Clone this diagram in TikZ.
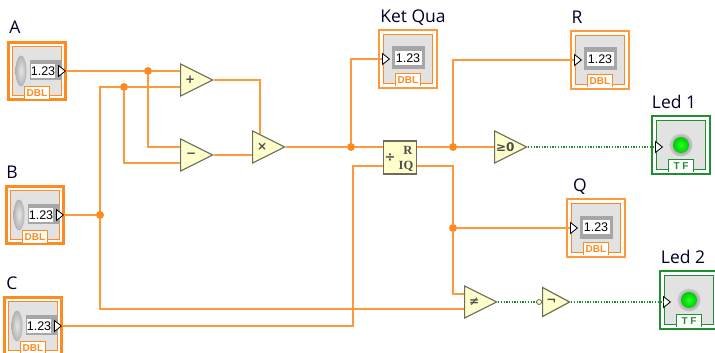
\documentclass[tikz,border=0pt]{standalone}
\usepackage{amsmath,amssymb}
\usepackage{xcolor}
\usepackage{fontspec}
\setsansfont{Open Sans}
\newfontfamily\dbfont{Liberation Sans}
\newfontfamily\opfont{Liberation Serif}
\newfontfamily\symfont{DejaVu Sans}
\usetikzlibrary{shapes.geometric,calc,positioning}
\definecolor{dblor}{HTML}{FF8A1F}
\definecolor{wireor}{HTML}{FF9A3C}
\definecolor{tfgr}{HTML}{1F8F2F}
\definecolor{dotgr}{HTML}{1E8C2E}
\definecolor{opfill}{HTML}{FFFFCC}
\definecolor{opedge}{HTML}{6E6E58}
\definecolor{panel}{HTML}{E2E2E2}
\tikzset{
  wire/.style={wireor,line width=1.5pt},
  boolwire/.style={dotgr,line width=1.3pt,dash pattern=on 1.3pt off 1.4pt},
  jn/.style={circle,fill=dblor,inner sep=0pt,minimum size=8pt},
  optri/.style={draw=opedge,fill=opfill,line width=1.2pt,isosceles triangle,isosceles triangle stretches,
    inner sep=0pt,minimum width=32pt,minimum height=32pt,anchor=lower side,
    text=black!70,font=\symfont\bfseries\fontsize{12}{12}\selectfont},
  termtri/.style={draw=black,fill=white,line width=0.8pt,isosceles triangle,isosceles triangle stretches,
    inner sep=0pt,minimum width=11pt,minimum height=7pt,anchor=lower side},
  lbl/.style={font=\sffamily\fontsize{17.5}{20}\selectfont,text=black!85!blue,inner sep=0pt,anchor=base},
  tagbox/.style={fill=white,inner sep=0pt,minimum width=24pt,minimum height=12pt,
    text=#1,font=\dbfont\bfseries\fontsize{10}{10}\selectfont},
  numout/.style={fill=black!35,inner sep=0pt},
  numbox/.style={fill=white,inner sep=0pt,font=\dbfont\fontsize{12.5}{14}\selectfont},
}
% control: centre x, centre y, name, label, label shift
\newcommand{\numctrl}[5]{
  \node[draw=dblor,fill=white,line width=3pt,minimum size=57pt,inner sep=0pt] (#3) at (#1,#2) {};
  \node[draw=dblor,fill=panel,line width=1.5pt,minimum size=49pt,inner sep=0pt] (#3-in) at (#3.center) {};
  \node[lbl] (#3-lbl) at ($(#3.north)+(#5,-7)$) {#4};
  \node[numout,minimum width=32pt,minimum height=20pt] (#3-out) at ($(#3.center)+(9,-1)$) {};
  \node[ellipse,inner color=black!10,outer color=black!30,minimum width=11pt,minimum height=31pt,inner sep=0pt] (#3-knob) at ($(#3.center)+(-16,0)$) {};
  \node[numbox,minimum width=24pt,minimum height=14pt] (#3-num) at ($(#3.center)+(6,0)$) {1.23};
  \node[tagbox=dblor] (#3-tag) at ($(#3.center)+(0,22)$) {DBL};
  \draw[dblor,line width=1pt] (#3-tag.south west) |- (#3-tag.north east) -- (#3-tag.south east);
  \node[termtri] (#3-t) at ($(#3.center)+(21,0)$) {};
}
% indicator: centre x, centre y, name, label, label shift
\newcommand{\numind}[5]{
  \node[draw=wireor,fill=white,line width=1.5pt,minimum size=58pt,inner sep=0pt] (#3) at (#1,#2) {};
  \node[draw=dblor,fill=panel,line width=1.5pt,minimum size=49pt,inner sep=0pt] (#3-in) at (#3.center) {};
  \node[lbl] (#3-lbl) at ($(#3.north)+(#5,-7)$) {#4};
  \node[numout,minimum width=33pt,minimum height=23pt] (#3-out) at ($(#3.center)+(0,-1)$) {};
  \node[numbox,minimum width=27pt,minimum height=14pt] (#3-num) at ($(#3.center)+(0,-1)$) {1.23};
  \node[tagbox=dblor] (#3-tag) at ($(#3.center)+(0,21)$) {DBL};
  \draw[dblor,line width=1pt] (#3-tag.south west) |- (#3-tag.north east) -- (#3-tag.south east);
  \node[termtri] (#3-t) at ($(#3.center)+(-26,0)$) {};
}
% led: centre x, centre y, name, label, label shift
\newcommand{\ledind}[5]{
  \node[draw=tfgr,fill=white,line width=1.3pt,minimum size=58pt,inner sep=0pt] (#3) at (#1,#2) {};
  \node[draw=tfgr,fill=panel,line width=1.3pt,minimum size=49pt,inner sep=0pt] (#3-in) at (#3.center) {};
  \node[lbl] (#3-lbl) at ($(#3.north)+(#5,-7)$) {#4};
  \node[circle,inner color=black!55,outer color=black!20,minimum size=23pt,inner sep=0pt] (#3-halo) at (#3.center) {};
  \node[circle,inner color=green!85!white,outer color=green!80!black,minimum size=16pt,inner sep=0pt] (#3-led) at (#3.center) {};
  \node[tagbox=tfgr] (#3-tag) at ($(#3.center)+(0,21)$) {T F};
  \draw[tfgr,line width=1pt] (#3-tag.south west) |- (#3-tag.north east) -- (#3-tag.south east);
  \node[termtri] (#3-t) at ($(#3.center)+(-26,2)$) {};
}

\begin{document}
\begin{tikzpicture}[x=1pt,y=-1pt]
  \useasboundingbox (0,0) rectangle (715,353);
  \clip (0,0) rectangle (715,353);
  \fill[white] (0,0) rectangle (715,353);

  % controls
  \numctrl{37}{71}{A}{A}{-22}
  \numctrl{35}{215}{B}{B}{-23}
  \numctrl{33}{326}{C}{C}{-21}

  % indicators
  \numind{408}{59}{KQ}{Ket Qua}{5}
  \numind{600}{60}{R}{R}{-23}
  \numind{596}{228}{Q}{Q}{-16}
  \ledind{681}{145}{LA}{Led 1}{-7}
  \ledind{689}{300}{LB}{Led 2}{-6}

  % functions
  \node[optri] (add) at (180,80) {+};
  \node[optri] (sub) at (180,155) {−};
  \node[optri] (mul) at (252,147) {×};
  \node[optri] (gez) at (494,147) {≥0};
  \node[optri] (neq) at (464,302) {≠};
  \node[optri,minimum width=29pt,minimum height=27pt] (nt) at (542,302) {¬};
  \node[circle,draw=opedge,fill=opfill,line width=0.8pt,minimum size=5pt,inner sep=0pt,left=0pt of nt.lower side] (ntc) {};
  \node[draw=opedge,fill=opfill,line width=1.2pt,minimum size=33pt,inner sep=0pt] (dv) at (400,157.5) {};
  \node[inner sep=0pt,text=black!70,font=\symfont\bfseries\fontsize{13}{13}\selectfont] (dv-s) at (390,158) {÷};
  \node[inner sep=0pt,text=black!70,font=\opfont\bfseries\fontsize{12.5}{13}\selectfont] (dv-r) at (408,150) {R};
  \node[inner sep=0pt,text=black!70,font=\opfont\bfseries\fontsize{12.5}{13}\selectfont] (dv-q) at (406,166) {IQ};

  % junctions
  \node[jn] (j1) at (148,71) {};
  \node[jn] (j2) at (124,87) {};
  \node[jn] (j3) at (100,215) {};
  \node[jn] (j4) at (351,147) {};
  \node[jn] (j5) at (453,147) {};
  \node[jn] (j6) at (453,228) {};

  % wires
  \draw[wire] (A-t.apex) -- (j1) -- (180,71);
  \draw[wire] (j1) |- (180,147);
  \draw[wire] (B-t.apex) -- (j3);
  \draw[wire] (j3) |- (j2) -- (180,87);
  \draw[wire] (j2) |- (180,163);
  \draw[wire] (add.apex) -| (260,134);
  \draw[wire] (sub.apex) -- (252,155);
  \draw[wire] (mul.apex) -- (j4) -- (383,147);
  \draw[wire] (j4) |- (KQ-t.lower side);
  \draw[wire] (417,147) -- (j5) -- (gez.lower side);
  \draw[wire] (j5) |- (R-t.lower side);
  \draw[wire] (417,166) -| (j6);
  \draw[wire] (j6) -- (Q-t.lower side);
  \draw[wire] (j6) |- (464,294);
  \draw[wire] (j3) |- (464,309);
  \draw[wire] (C-t.apex) -| (353,166) -- (383,166);
  \draw[boolwire] (gez.apex) -- (LA-t.lower side);
  \draw[boolwire] (neq.apex) -- (ntc);
  \draw[boolwire] (nt.apex) -- (LB-t.lower side);
\end{tikzpicture}
\end{document}
